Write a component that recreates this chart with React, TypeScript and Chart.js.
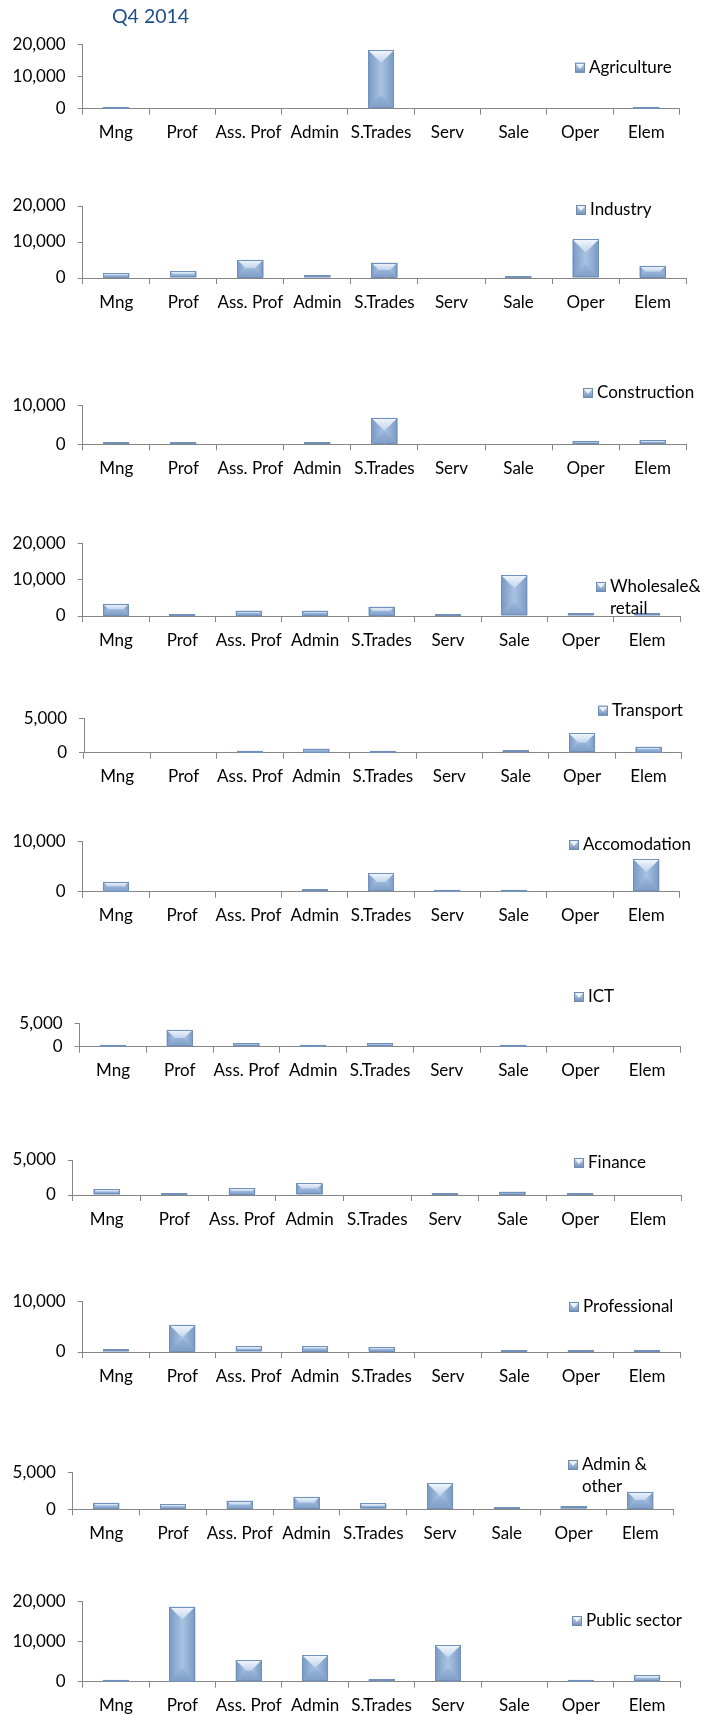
import React, { useEffect, useRef } from "react";
import { Chart, registerables } from "chart.js";

Chart.register(...registerables);

// ---------- DATA ----------
const chartTitle = "Q4 2014";
const categories = ["Mng", "Prof", "Ass. Prof", "Admin", "S.Trades", "Serv", "Sale", "Oper", "Elem"];

const agriculture = [100, null, null, null, 18200, null, null, null, 600];
const industry = [1400, 1900, 5100, 800, 4300, null, 300, 10700, 3400];
const construction = [100, 150, null, 100, 6900, null, null, 800, 1100];
const wholesale = [3400, 100, 1500, 1500, 2600, 100, 11200, 700, 800];
const transport = [null, null, 100, 600, 100, null, 400, 2800, 900];
const accomodation = [2000, null, null, 500, 3700, 200, 300, null, 6500];
const ict = [150, 3600, 800, 100, 800, null, 150, null, null];
const finance = [850, 300, 1000, 1700, null, 100, 500, 100, null];
const professional = [500, 5400, 1100, 1200, 1000, null, 100, 100, 100];
const adminOther = [900, 700, 1200, 1700, 800, 3600, 300, 400, 2400];
const publicSector = [100, 18800, 5400, 6700, 600, 9200, null, 100, 1600];

const seriesNames: string[][] = [
  ["Agriculture"],
  ["Industry"],
  ["Construction"],
  ["Wholesale&", "retail"],
  ["Transport"],
  ["Accomodation"],
  ["ICT"],
  ["Finance"],
  ["Professional"],
  ["Admin &", "other"],
  ["Public sector"],
];
const seriesValues = [
  agriculture, industry, construction, wholesale, transport, accomodation,
  ict, finance, professional, adminOther, publicSector,
];
const axisMax = [20000, 20000, 10000, 20000, 5000, 10000, 5000, 5000, 10000, 5000, 20000];
const axisStep = [10000, 10000, 10000, 10000, 5000, 10000, 5000, 5000, 10000, 5000, 10000];

// ---------- LAYOUT (page pixel positions of each panel) ----------
const panelLayout = [
  { top: 44.3, zero: 108.7, left: 82.7, right: 679.5, legX: 589, legY: 67.7 },
  { top: 206, zero: 278, left: 82.7, right: 686.2, legX: 590, legY: 210 },
  { top: 405.7, zero: 444.3, left: 82.7, right: 686.2, legX: 597, legY: 393 },
  { top: 543.3, zero: 616, left: 82.7, right: 680.4, legX: 610, legY: 587 },
  { top: 718.3, zero: 752.7, left: 84, right: 681.7, legX: 612, legY: 710.7 },
  { top: 841.7, zero: 891.7, left: 82.7, right: 679.5, legX: 583, legY: 845 },
  { top: 1023.3, zero: 1046.7, left: 79.6, right: 680.4, legX: 588, legY: 997 },
  { top: 1160, zero: 1195, left: 72.9, right: 681.7, legX: 588, legY: 1163 },
  { top: 1301.4, zero: 1352, left: 82.7, right: 680.4, legX: 583, legY: 1307 },
  { top: 1472.7, zero: 1509.3, left: 72.9, right: 673.7, legX: 582, legY: 1465 },
  { top: 1601.7, zero: 1681.7, left: 82.7, right: 680.4, legX: 586, legY: 1621 },
];

const FONT = "Lato, 'Noto Sans', sans-serif";
const AXIS_COLOR = "#868686";
const X_AXIS_H = 44;
const PAD_TOP = 40;

function poly(ctx: CanvasRenderingContext2D, pts: number[][], fill: any) {
  ctx.beginPath();
  ctx.moveTo(pts[0][0], pts[0][1]);
  for (let i = 1; i < pts.length; i++) ctx.lineTo(pts[i][0], pts[i][1]);
  ctx.closePath();
  ctx.fillStyle = fill;
  ctx.fill();
}

function drawBevel(ctx: CanvasRenderingContext2D, x0: number, x1: number, top: number, bottom: number) {
  const w = x1 - x0;
  const h = bottom - top;
  if (h < 1 || w < 2) return;
  const d = Math.min(w / 2, h / 2, 14);
  const ix0 = x0 + d, ix1 = x1 - d, iy0 = top + d, iy1 = bottom - d;
  // left side
  let g = ctx.createLinearGradient(x0, 0, ix0, 0);
  g.addColorStop(0, "#7898C3");
  g.addColorStop(1, "#AAC3E3");
  poly(ctx, [[x0, top], [ix0, iy0], [ix0, iy1], [x0, bottom]], g);
  // right side
  g = ctx.createLinearGradient(ix1, 0, x1, 0);
  g.addColorStop(0, "#AAC3E3");
  g.addColorStop(1, "#7898C3");
  poly(ctx, [[x1, top], [ix1, iy0], [ix1, iy1], [x1, bottom]], g);
  // inner body
  if (ix1 > ix0 && iy1 > iy0) {
    poly(ctx, [[ix0, iy0], [ix1, iy0], [ix1, iy1], [ix0, iy1]], "#ADC5E4");
  }
  // top facet (light)
  g = ctx.createLinearGradient(0, top, 0, iy0);
  g.addColorStop(0, "#F3F7FC");
  g.addColorStop(1, "#C0D4EC");
  poly(ctx, [[x0, top], [x1, top], [ix1, iy0], [ix0, iy0]], g);
  // bottom facet (darker)
  g = ctx.createLinearGradient(0, iy1, 0, bottom);
  g.addColorStop(0, "#98B4DA");
  g.addColorStop(1, "#7F9DC6");
  poly(ctx, [[x0, bottom], [x1, bottom], [ix1, iy1], [ix0, iy1]], g);
  ctx.strokeStyle = "#7190BA";
  ctx.lineWidth = 1;
  ctx.strokeRect(Math.round(x0) + 0.5, Math.round(top) + 0.5, Math.round(w) - 1, Math.max(Math.round(h) - 1, 0));
}

const bevelPlugin = {
  id: "bevelBars",
  afterDatasetsDraw(chart: any) {
    const ctx = chart.ctx as CanvasRenderingContext2D;
    ctx.save();
    chart.getSortedVisibleDatasetMetas().forEach((meta: any) => {
      meta.data.forEach((bar: any, i: number) => {
        const raw = meta._dataset.data[i];
        if (raw === null || raw === undefined) return;
        const p = bar.getProps(["x", "y", "base", "width"], true);
        const top = Math.min(p.y, p.base);
        const bottom = Math.max(p.y, p.base);
        drawBevel(ctx, p.x - p.width / 2, p.x + p.width / 2, top, bottom);
      });
    });
    ctx.restore();
  },
};

const panelTextPlugin = {
  id: "panelText",
  afterDraw(chart: any, _args: any, opts: any) {
    const ctx = chart.ctx as CanvasRenderingContext2D;
    ctx.save();
    // legend
    const lines: string[] = opts.lines || [];
    const ly = opts.y - opts.canvasTop;
    const tx = opts.x;
    const mx = tx - 14;
    const ms = 10;
    const my = ly - ms / 2;
    const g = ctx.createLinearGradient(mx, my, mx, my + ms);
    g.addColorStop(0, "#C9D8EC");
    g.addColorStop(1, "#6F8DB7");
    ctx.fillStyle = g;
    ctx.fillRect(mx, my, ms, ms);
    ctx.beginPath();
    ctx.moveTo(mx + 1, my + 1);
    ctx.lineTo(mx + ms - 1, my + 1);
    ctx.lineTo(mx + ms / 2, my + ms / 2 + 1);
    ctx.closePath();
    ctx.fillStyle = "#EEF3FA";
    ctx.fill();
    ctx.strokeStyle = "#6E8AB2";
    ctx.lineWidth = 1;
    ctx.strokeRect(mx + 0.5, my + 0.5, ms - 1, ms - 1);
    ctx.fillStyle = "#000000";
    ctx.font = `17px ${FONT}`;
    ctx.textAlign = "left";
    ctx.textBaseline = "middle";
    lines.forEach((t, i) => ctx.fillText(t, tx, ly + i * 22));
    // title
    if (opts.title) {
      ctx.fillStyle = "#1F4E8C";
      ctx.font = `19.5px ${FONT}`;
      ctx.fillText(opts.title, 112, 17 - opts.canvasTop);
    }
    ctx.restore();
  },
};

function Panel({ index }: { index: number }) {
  const ref = useRef<HTMLCanvasElement>(null);
  const L = panelLayout[index];
  const canvasTop = index === 0 ? 0 : Math.round(L.top) - PAD_TOP;
  const padTop = L.top - canvasTop;
  const zeroInCanvas = L.zero - canvasTop;
  const height = Math.ceil(zeroInCanvas + X_AXIS_H);
  const padBottom = height - X_AXIS_H - zeroInCanvas;

  useEffect(() => {
    const chart = new Chart(ref.current as HTMLCanvasElement, {
      type: "bar",
      data: {
        labels: categories,
        datasets: [
          {
            label: seriesNames[index].join(" "),
            data: seriesValues[index] as any,
            backgroundColor: "#9BB7DB",
            borderColor: "#6E8DB8",
            borderWidth: 1,
            barPercentage: 0.39,
            categoryPercentage: 1,
            minBarLength: 2,
          },
        ],
      },
      options: {
        animation: false,
        responsive: false,
        maintainAspectRatio: false,
        devicePixelRatio: 1,
        events: [],
        layout: { padding: { top: padTop, left: 0, right: 701 - L.right, bottom: padBottom } },
        plugins: {
          legend: { display: false },
          tooltip: { enabled: false },
          title: { display: false },
          panelText: {
            lines: seriesNames[index],
            x: L.legX,
            y: L.legY,
            canvasTop,
            title: index === 0 ? chartTitle : null,
          },
        } as any,
        scales: {
          x: {
            offset: true,
            grid: {
              display: true,
              drawOnChartArea: false,
              drawTicks: true,
              tickLength: 6,
              color: AXIS_COLOR,
              offset: true,
            },
            border: { display: true, color: AXIS_COLOR, width: 1 },
            ticks: {
              color: "#000000",
              font: { family: FONT, size: 17 },
              padding: 8,
              maxRotation: 0,
              autoSkip: false,
            },
            afterFit: (s: any) => {
              s.height = X_AXIS_H;
            },
          },
          y: {
            min: 0,
            max: axisMax[index],
            grid: {
              display: true,
              drawOnChartArea: false,
              drawTicks: true,
              tickLength: 5,
              color: AXIS_COLOR,
            },
            border: { display: true, color: AXIS_COLOR, width: 1 },
            ticks: {
              stepSize: axisStep[index],
              color: "#000000",
              font: { family: FONT, size: 17 },
              padding: 12,
              callback: (v: any) => Number(v).toLocaleString("en-US"),
            },
            afterFit: (s: any) => {
              s.width = L.left;
            },
          },
        },
      },
      plugins: [bevelPlugin, panelTextPlugin],
    });
    return () => chart.destroy();
  }, []);

  return (
    <canvas
      ref={ref}
      width={701}
      height={height}
      style={{ position: "absolute", left: 0, top: canvasTop, width: 701, height, display: "block" }}
    />
  );
}

export default function App() {
  return (
    <div
      style={{
        position: "absolute",
        left: 0,
        top: 0,
        width: 701,
        height: 1715,
        overflow: "hidden",
        background: "#ffffff",
      }}
    >
      {panelLayout.map((_, i) => (
        <Panel key={i} index={i} />
      ))}
    </div>
  );
}
